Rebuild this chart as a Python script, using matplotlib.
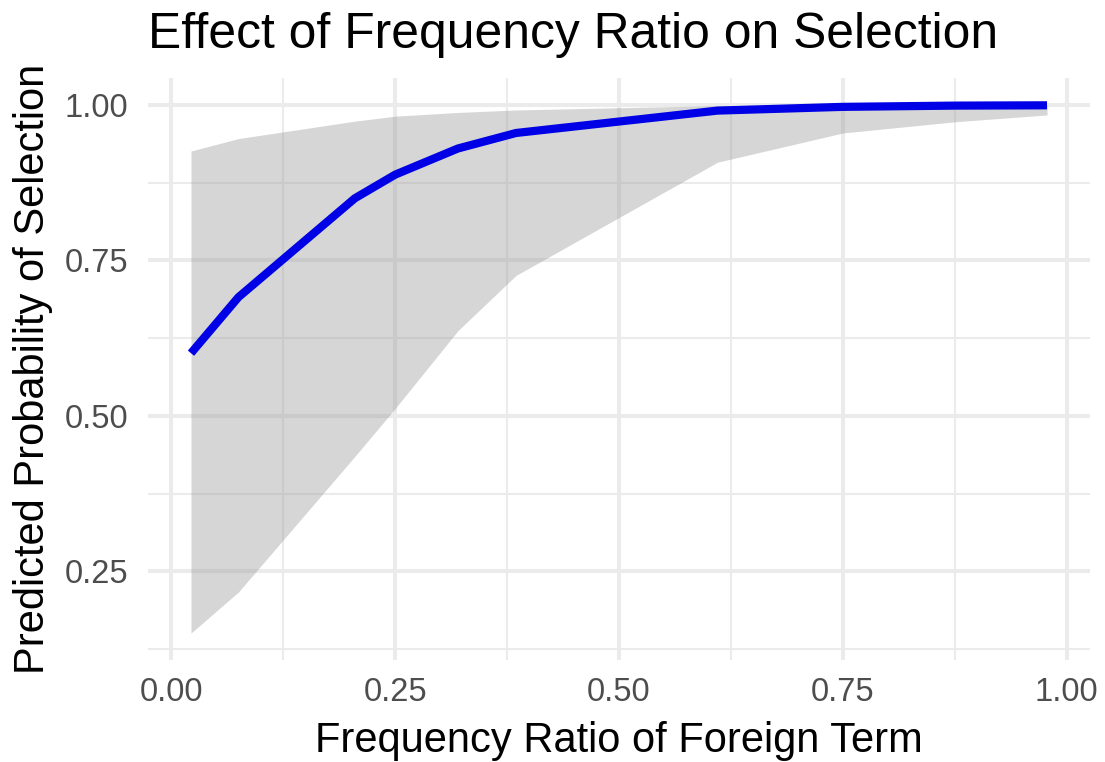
import numpy as np
import matplotlib
matplotlib.use("Agg")
import matplotlib.pyplot as plt

plt.rcParams['font.family'] = ['Liberation Sans', 'DejaVu Sans']

# values
freq_ratio = [0.022, 0.075, 0.205, 0.25, 0.32, 0.385, 0.61, 0.75, 0.875, 0.978]
pred_prob = [0.601, 0.691, 0.850, 0.888, 0.930, 0.955, 0.991, 0.997, 0.999, 0.9995]
ci_lower = [0.151, 0.217, 0.435, 0.512, 0.637, 0.726, 0.908, 0.955, 0.973, 0.984]
ci_upper = [0.926, 0.946, 0.974, 0.982, 0.988, 0.992, 0.999, 1.0, 1.0, 1.0]

x_ticks = [0.0, 0.25, 0.5, 0.75, 1.0]
x_labels = ['0.00', '0.25', '0.50', '0.75', '1.00']
y_ticks = [0.25, 0.5, 0.75, 1.0]
y_labels = ['0.25', '0.50', '0.75', '1.00']

fig = plt.figure(figsize=(11.05, 7.62), dpi=100)
ax = fig.add_axes([148 / 1105, 1 - 660 / 762, 942 / 1105, 582 / 762])

grid_col = '#EBEBEB'
ax.set_xlim(-0.026, 1.026)
ax.set_ylim(0.1077, 1.0434)
ax.set_xticks(x_ticks)
ax.set_xticklabels(x_labels)
ax.set_yticks(y_ticks)
ax.set_yticklabels(y_labels)
ax.set_xticks([0.125, 0.375, 0.625, 0.875], minor=True)
ax.set_yticks([0.125, 0.375, 0.625, 0.875], minor=True)
ax.set_axisbelow(True)
ax.grid(which='major', color=grid_col, linewidth=2.9)
ax.grid(which='minor', color=grid_col, linewidth=1.5)
for s in ax.spines.values():
    s.set_visible(False)
ax.tick_params(which='both', length=0, labelsize=23.5, labelcolor='#4D4D4D')
ax.tick_params(axis='x', pad=12)
ax.tick_params(axis='y', pad=14)

x = np.array(freq_ratio)
ax.fill_between(x, ci_lower, ci_upper, color='#999999', alpha=0.4, linewidth=0)
ax.plot(x, pred_prob, color='#0000E6', linewidth=5.9, solid_capstyle='butt', solid_joinstyle='round')

ax.set_xlabel('Frequency Ratio of Foreign Term', fontsize=30, labelpad=9.5)
ax.set_ylabel('Predicted Probability of Selection', fontsize=30, labelpad=8.5)
ax.set_title('Effect of Frequency Ratio on Selection', fontsize=35.8, loc='left', pad=21.5)

fig.savefig('out.png', dpi=100)
